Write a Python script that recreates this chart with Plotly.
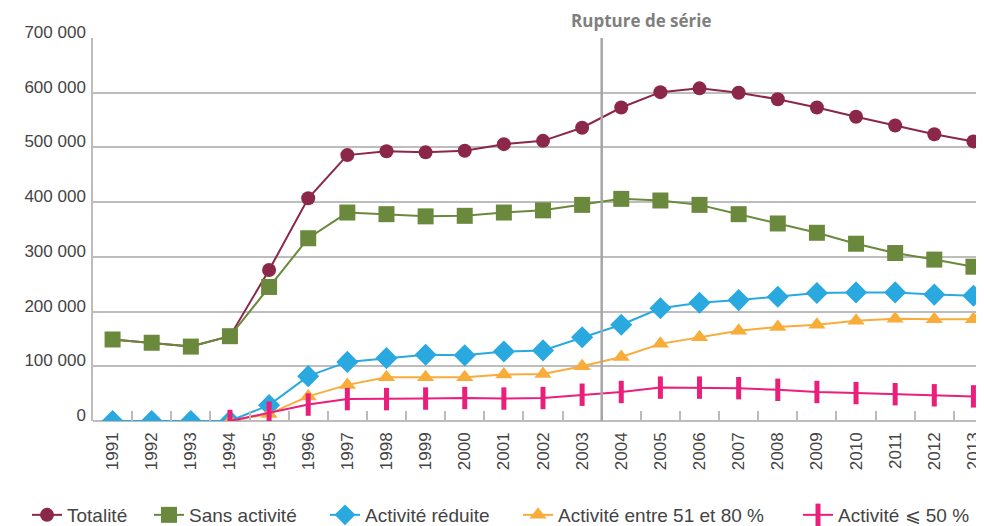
import plotly.graph_objects as go

years = [str(y) for y in range(1991, 2014)]

totalite = [149000, 143000, 136000, 155000, 276000, 407000, 486000, 493000, 491000, 494000,
            506000, 512000, 536000, 573000, 601000, 608000, 600000, 588000, 573000, 556000,
            540000, 524000, 511000]
sans_activite = [149000, 143000, 136000, 155000, 245000, 334000, 381000, 378000, 374000, 375000,
                 381000, 385000, 395000, 406000, 403000, 395000, 378000, 361000, 344000, 324000,
                 307000, 295000, 282000]
activite_reduite = [0, 0, 0, 0, 29000, 82000, 108000, 115000, 121000, 120000,
                    127000, 129000, 153000, 176000, 206000, 216000, 221000, 227000, 234000, 235000,
                    235000, 231000, 229000]
activite_51_80 = [None, None, None, 0, 13000, 45000, 66000, 80000, 80000, 80000,
                  85000, 86000, 100000, 117000, 141000, 153000, 165000, 172000, 176000, 183000,
                  187000, 186000, 186000]
activite_50 = [None, None, None, 0, 15000, 30000, 40000, 40000, 41000, 42000,
               41000, 42000, 48000, 53000, 61000, 61000, 60000, 57000, 53000, 51000,
               49000, 47000, 45000]

y_tickvals = [0, 100000, 200000, 300000, 400000, 500000, 600000, 700000]
y_ticktext = ["0", "100 000", "200 000", "300 000", "400 000", "500 000", "600 000", "700 000"]

series = [
    ("Totalité", totalite, "#8B2749", "circle", 14, 0),
    ("Sans activité", sans_activite, "#6A893C", "square", 16, 0),
    ("Activité réduite", activite_reduite, "#29A9E0", "diamond", 17, 0),
    ("Activité entre 51 et 80 %", activite_51_80, "#F8AC3A", "triangle-up", 15, 0),
    ("Activité ⩽ 50 %", activite_50, "#EA1E7B", "line-ns", 16, 5),
]

# legend left positions (px within the figure)
legend_x_px = [19, 141, 317, 510, 790]
FIG_W, FIG_H = 976, 526

fig = go.Figure()
for i, (name, vals, color, sym, size, lw) in enumerate(series):
    marker = dict(symbol=sym, size=size, color=color)
    if sym == "line-ns":
        marker["line"] = dict(color=color, width=lw)
    else:
        marker["line"] = dict(width=0)
    fig.add_trace(go.Scatter(
        x=years, y=vals, name=name, mode="lines+markers",
        line=dict(color=color, width=2), marker=marker,
        legend="legend" if i == 0 else f"legend{i+1}",
    ))

legend_common = dict(orientation="h", xref="container", yref="container", y=0.0,
                     xanchor="left", yanchor="bottom", font=dict(size=19, color="#444444"),
                     bgcolor="rgba(0,0,0,0)")
legends = {}
for i, px in enumerate(legend_x_px):
    key = "legend" if i == 0 else f"legend{i+1}"
    legends[key] = dict(legend_common, x=px / FIG_W)

fig.add_shape(type="line", xref="x", yref="paper", x0=12.5, x1=12.5, y0=0, y1=1,
              line=dict(color="#A6A6A6", width=2.5), layer="above")
fig.add_annotation(text="<b>Rupture de série</b>", xref="x", yref="paper", x=13.52, y=1,
                   yshift=18, xanchor="center", yanchor="middle", showarrow=False,
                   font=dict(size=17, color="#7F7F7F", family="Open Sans, sans-serif"))

fig.update_layout(
    width=FIG_W, height=FIG_H,
    margin=dict(l=85, r=0, t=30, b=113),
    paper_bgcolor="white", plot_bgcolor="white",
    font=dict(family="Liberation Sans, Arial, sans-serif", color="#555555", size=16),
    showlegend=True,
    xaxis=dict(type="category", range=[-0.5, 22.27], tickangle=-90,
               ticks="inside", tickson="boundaries", ticklen=10, tickcolor="#BBBBBB",
               tickwidth=1.5, showgrid=False, showline=False, zeroline=False,
               ticklabelstandoff=7,
               tickfont=dict(size=17, color="#444444")),
    yaxis=dict(range=[0, 700000], tickvals=y_tickvals, ticktext=y_ticktext,
               showgrid=True, gridcolor="#BDBDBD", gridwidth=1.5,
               showline=True, linecolor="#BDBDBD", linewidth=1.5,
               zeroline=True, zerolinecolor="#BDBDBD", zerolinewidth=1.5,
               ticks="", ticklabelposition="outside", ticklabelshift=-6, ticklabelstandoff=2,
               tickfont=dict(size=17, color="#444444")),
    **legends,
)

fig.write_html("out.html")
